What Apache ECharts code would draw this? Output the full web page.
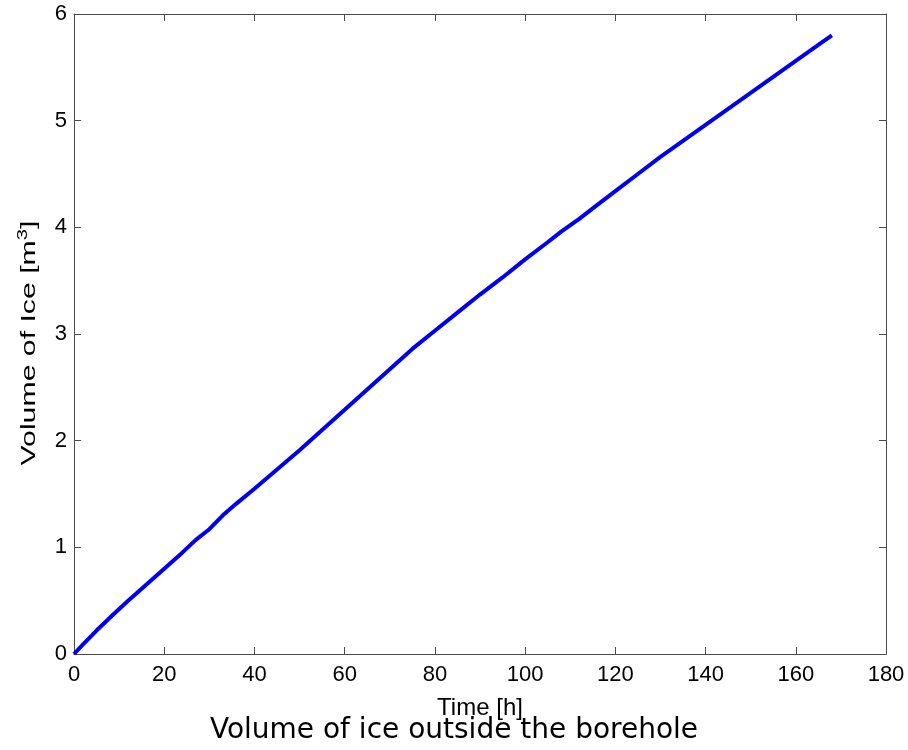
<!DOCTYPE html>
<html>
<head>
<meta charset="utf-8">
<script src="https://cdn.jsdelivr.net/npm/echarts@6/dist/echarts.min.js"></script>
<style>html,body{margin:0;padding:0;background:#fff;}#c{width:908px;height:750px;}</style>
</head>
<body>
<div id="c"></div>
<script>
const timeHours = [0, 2, 5, 8.7, 12, 16, 20, 24, 27, 30, 33, 36, 40, 45, 50, 55, 60, 65, 70, 75, 80, 85, 90, 95, 100, 105, 108, 112, 116, 120, 125, 130, 135, 140, 145, 150, 155, 160, 165, 168];
const iceVolume = [0, 0.09, 0.22, 0.37, 0.50, 0.65, 0.80, 0.95, 1.07, 1.17, 1.30, 1.41, 1.55, 1.73, 1.91, 2.10, 2.29, 2.48, 2.67, 2.86, 3.03, 3.20, 3.37, 3.53, 3.70, 3.86, 3.96, 4.08, 4.21, 4.34, 4.50, 4.66, 4.81, 4.96, 5.11, 5.26, 5.41, 5.56, 5.71, 5.80];
const xTicks = {min: 0, max: 180, interval: 20};
const yTicks = {min: 0, max: 6, interval: 1};
const xLabel = 'Time [h]';
const yLabelMain = 'Volume of Ice [m';
const yLabelSup = '3';
const yLabelEnd = ']';
const chartTitle = 'Volume of ice outside the borehole';

const axisColor = '#4a4a4a';
const font = 'Liberation Sans, Arial, sans-serif';
const chart = echarts.init(document.getElementById('c'), null, {renderer: 'canvas'});
const common = {
  axisLine: {show: true, onZero: false, lineStyle: {color: axisColor, width: 1}},
  axisTick: {show: true, inside: true, length: 7, lineStyle: {color: axisColor}},
  splitLine: {show: false}
};
chart.setOption({
  animation: false,
  backgroundColor: '#fff',
  title: {
    text: chartTitle, left: 'center', top: 712,
    textStyle: {fontFamily: 'DejaVu Sans', fontSize: 28, fontWeight: 'normal', color: '#000'}
  },
  grid: {left: 74, right: 22, top: 14, bottom: 96, containLabel: false},
  xAxis: [
    Object.assign({type: 'value', position: 'bottom', min: xTicks.min, max: xTicks.max, interval: xTicks.interval,
      name: xLabel, nameLocation: 'middle', nameGap: 42,
      nameTextStyle: {fontFamily: font, fontSize: 24, color: '#000'},
      axisLabel: {fontFamily: font, fontSize: 22, color: '#000', margin: 10}}, common),
    Object.assign({type: 'value', position: 'top', min: xTicks.min, max: xTicks.max, interval: xTicks.interval,
      axisLabel: {show: false}}, common)
  ],
  yAxis: [
    Object.assign({type: 'value', position: 'left', min: yTicks.min, max: yTicks.max, interval: yTicks.interval,
      axisLabel: {fontFamily: font, fontSize: 22, color: '#000', margin: 7}}, common),
    Object.assign({type: 'value', position: 'right', min: yTicks.min, max: yTicks.max, interval: yTicks.interval,
      axisLabel: {show: false}}, common)
  ],
  graphic: [{
    type: 'text',
    x: 28, y: 343,
    rotation: Math.PI / 2,
    scaleX: 1.44,
    style: {
      text: '{a|' + yLabelMain + '}{s|' + yLabelSup + '}{a|' + yLabelEnd + '}',
      align: 'center', verticalAlign: 'middle',
      rich: {
        a: {fontFamily: font, fontSize: 21, fill: '#000', verticalAlign: 'bottom'},
        s: {fontFamily: font, fontSize: 14, fill: '#000', verticalAlign: 'top', padding: [0, 0, 10, 0]}
      }
    }
  }],
  series: [{
    type: 'line', xAxisIndex: 0, yAxisIndex: 0,
    data: timeHours.map((t, i) => [t, iceVolume[i]]),
    showSymbol: false, symbol: 'none',
    lineStyle: {color: '#0000f0', width: 4},
    z: 1
  }]
});
</script>
</body>
</html>
